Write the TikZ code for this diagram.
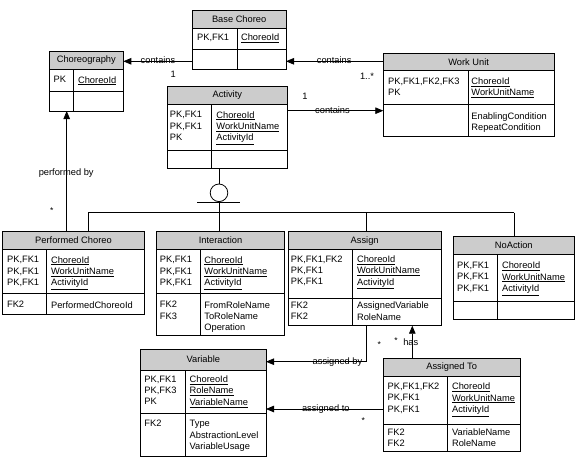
\documentclass[tikz,border=0pt]{standalone}
\usepackage{fontspec}
\setmainfont{Liberation Sans}
\usepackage{tikz}
\usetikzlibrary{arrows.meta,positioning,calc,fit}

% entity box: name, left, top, right, header bottom, row bottom, bottom, divider, title
\newcommand{\erbox}[9]{%
  \fill[hdfill] (#2,#3) rectangle (#4,#5);
  \draw (#2,#3) rectangle (#4,#7);
  \draw (#2,#5) -- (#4,#5) (#2,#6) -- (#4,#6) (#8,#5) -- (#8,#7);
  \node[fit={(#2,#3) (#4,#7)}, inner sep=0pt, outer sep=0pt] (#1) {};
  \node[ttl] (#1-t) at ({(#2+#4)/2},{(#3+#5)/2}) {#9};
}

\begin{document}
\begin{tikzpicture}[x=1pt,y=-1pt,line width=0.8pt,
  hdfill/.style={fill=gray!40},
  ttl/.style={inner sep=0pt, font=\fontsize{9.3}{11.3}\selectfont},
  col/.style={anchor=north west, align=left, inner sep=0pt, font=\fontsize{9.3}{11.3}\selectfont},
  lbl/.style={anchor=base, inner sep=0pt, font=\fontsize{9.3}{11.3}\selectfont},
  mult/.style={inner sep=0pt, font=\fontsize{9.3}{11.3}\selectfont},
  star/.style={anchor=north, inner sep=0pt, font=\fontsize{8.5}{8.5}\selectfont},
  rel/.style={-{Triangle[length=8pt,width=6.5pt]}}]
\useasboundingbox (0,0) rectangle (575,458);

% Entities
\erbox{base}{192.3}{10.7}{286}{28.3}{49.3}{69.3}{237.3}{Base Choreo}
\erbox{choreo}{49.3}{51.7}{123.3}{69.3}{91.7}{111}{73.3}{Choreography}
\erbox{act}{167.3}{86.7}{287.3}{104.3}{150.3}{168.3}{211.7}{Activity}
\erbox{wu}{383.3}{53.3}{554}{70.7}{104.3}{136}{468.7}{Work Unit}
\erbox{pc}{2.7}{231.7}{144.3}{249.5}{293.3}{314.3}{46}{Performed Choreo}
\erbox{inter}{156.7}{231.7}{284.3}{249.5}{293.3}{335.7}{200}{Interaction}
\erbox{asg}{288.3}{231.7}{441}{249.5}{298.3}{325.7}{352.3}{Assign}
\erbox{noact}{453.3}{236.7}{574.3}{254}{301.7}{319}{497.3}{NoAction}
\erbox{var}{140.7}{349.3}{266}{370}{413.3}{456.7}{185}{Variable}
\erbox{at}{383.3}{358.3}{520}{376}{424}{451}{447.3}{Assigned To}

% Keys and attributes
\node[col] (base-k) at (196.7,33.5) {PK,FK1};
\node[col] (base-a) at (240.7,33.5) {\underline{ChoreoId}};
\node[col] (choreo-k) at (53.3,76) {PK};
\node[col] (choreo-a) at (77.7,76) {\underline{ChoreoId}};
\node[col] (act-k) at (169.5,111) {PK,FK1\\PK,FK1\\PK};
\node[col] (act-a) at (216,111) {\underline{ChoreoId}\\\underline{WorkUnitName}\\\underline{ActivityId}};
\node[col] (wu-k) at (387.7,77.3) {PK,FK1,FK2,FK3\\PK};
\node[col] (wu-a) at (471,77.3) {\underline{ChoreoId}\\\underline{WorkUnitName}};
\node[col] (wu-b) at (471,112.3) {EnablingCondition\\RepeatCondition};
\node[col] (pc-k) at (6.7,256) {PK,FK1\\PK,FK1\\PK,FK1};
\node[col] (pc-a) at (50.7,256) {\underline{ChoreoId}\\\underline{WorkUnitName}\\\underline{ActivityId}};
\node[col] (pc-f) at (6.7,301) {FK2};
\node[col] (pc-b) at (50.7,301) {PerformedChoreoId};
\node[col] (inter-k) at (159.5,256) {PK,FK1\\PK,FK1\\PK,FK1};
\node[col] (inter-a) at (204,256) {\underline{ChoreoId}\\\underline{WorkUnitName}\\\underline{ActivityId}};
\node[col] (inter-f) at (159.5,301) {FK2\\FK3};
\node[col] (inter-b) at (204,301) {FromRoleName\\ToRoleName\\Operation};
\node[col] (asg-k) at (290.5,255.5) {PK,FK1,FK2\\PK,FK1\\PK,FK1};
\node[col] (asg-a) at (356.7,255.5) {\underline{ChoreoId}\\\underline{WorkUnitName}\\\underline{ActivityId}};
\node[col] (asg-f) at (290.5,301.7) {FK2\\FK2};
\node[col] (asg-b) at (356.7,301.7) {AssignedVariable\\RoleName};
\node[col] (noact-k) at (456.7,261.7) {PK,FK1\\PK,FK1\\PK,FK1};
\node[col] (noact-a) at (501.7,261.7) {\underline{ChoreoId}\\\underline{WorkUnitName}\\\underline{ActivityId}};
\node[col] (var-k) at (144,375.5) {PK,FK1\\PK,FK3\\PK};
\node[col] (var-a) at (189.3,375.5) {\underline{ChoreoId}\\\underline{RoleName}\\\underline{VariableName}};
\node[col] (var-f) at (144,420) {FK2};
\node[col] (var-b) at (189.3,420) {Type\\AbstractionLevel\\VariableUsage};
\node[col] (at-k) at (387.3,382.7) {PK,FK1,FK2\\PK,FK1\\PK,FK1};
\node[col] (at-a) at (451.7,382.7) {\underline{ChoreoId}\\\underline{WorkUnitName}\\\underline{ActivityId}};
\node[col] (at-f) at (387.3,428.3) {FK2\\FK2};
\node[col] (at-b) at (451.7,428.3) {VariableName\\RoleName};

% Relationships
\draw[rel] (base.west |- 0,61.3) -- (choreo.east |- 0,61.3);
\draw[rel] (wu.west |- 0,61.3) -- (base.east |- 0,61.3);
\draw[rel] (act.east |- 0,110.7) -- (wu.west |- 0,110.7);
\draw[rel] (pc.north -| 66.7,0) -- (choreo.south -| 66.7,0);
\draw[rel] (asg.south -| 366,0) |- (var.east |- 0,361.7);
\draw[rel] (at.north -| 412.3,0) -- (asg.south -| 412.3,0);
\draw[rel] (at.west |- 0,409) -- (var.east |- 0,409);

% Subtypes of Activity
\node[circle, draw, minimum size=17.6pt, inner sep=0pt] (isa) at (219,192.8) {};
\draw (act.south -| isa) -- (isa.north);
\draw (197.3,202.3) -- (240,202.3);
\draw (isa.south) -- (isa |- 0,212.7);
\draw (88.3,212.7) -- (514.3,212.7);
\foreach \e/\x in {pc/88.3, inter/219, asg/366, noact/514.3}
  \draw (\x,212.7) -- (\e.north -| \x,0);

% Labels
\node[lbl] (c1) at (158,63.8) {contains};
\node[lbl] (c2) at (334.2,63.8) {contains};
\node[lbl] (c3) at (332.5,113.2) {contains};
\node[lbl] (pb) at (66.2,175) {performed by};
\node[lbl] (ab) at (337.5,364.2) {assigned by};
\node[lbl] (ato) at (325.8,411.5) {assigned to};
\node[lbl] (hs) at (410.8,345) {has};
\node[mult] (m1) at (173.3,74.3) {1};
\node[mult] (m2) at (367,76.7) {1..*};
\node[mult] (m3) at (305,96.7) {1};
\node[star] (s1) at (51.7,206.8) {*};
\node[star] (s2) at (379.3,340.8) {*};
\node[star] (s3) at (396,336.8) {*};
\node[star] (s4) at (363.3,417.5) {*};

\end{tikzpicture}
\end{document}
